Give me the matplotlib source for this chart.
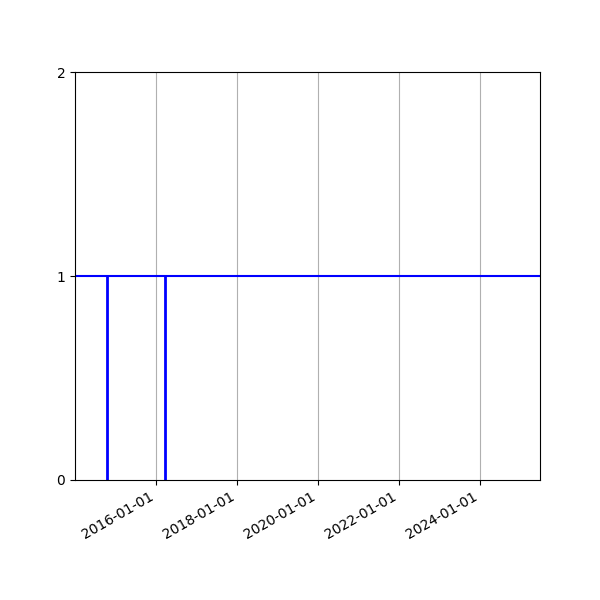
import matplotlib
matplotlib.use("Agg")
import matplotlib.pyplot as plt
import matplotlib.dates as mdates
import numpy as np
from datetime import datetime

event_dates = [datetime(2014, 10, 22), datetime(2016, 3, 27)]
event_heights = [1, 1]
level = 1
x_start = datetime(2014, 1, 5)
x_end = datetime(2025, 6, 24)
tick_dates = [datetime(y, 1, 1) for y in (2016, 2018, 2020, 2022, 2024)]
y_ticks = [0, 1, 2]

fig, ax = plt.subplots(figsize=(6, 6), dpi=100)
ax.vlines(event_dates, 0, event_heights, color="blue", linewidth=2)
ax.axhline(level, color="blue", linewidth=1.5)
ax.set_xlim(x_start, x_end)
ax.set_ylim(0, 2)
ax.set_yticks(y_ticks)
ax.set_xticks(tick_dates)
ax.xaxis.set_major_formatter(mdates.DateFormatter("%Y-%m-%d"))
ax.grid(axis="x", color="#b0b0b0", linewidth=0.8)
fig.autofmt_xdate()
fig.savefig("out.png", dpi=100)
